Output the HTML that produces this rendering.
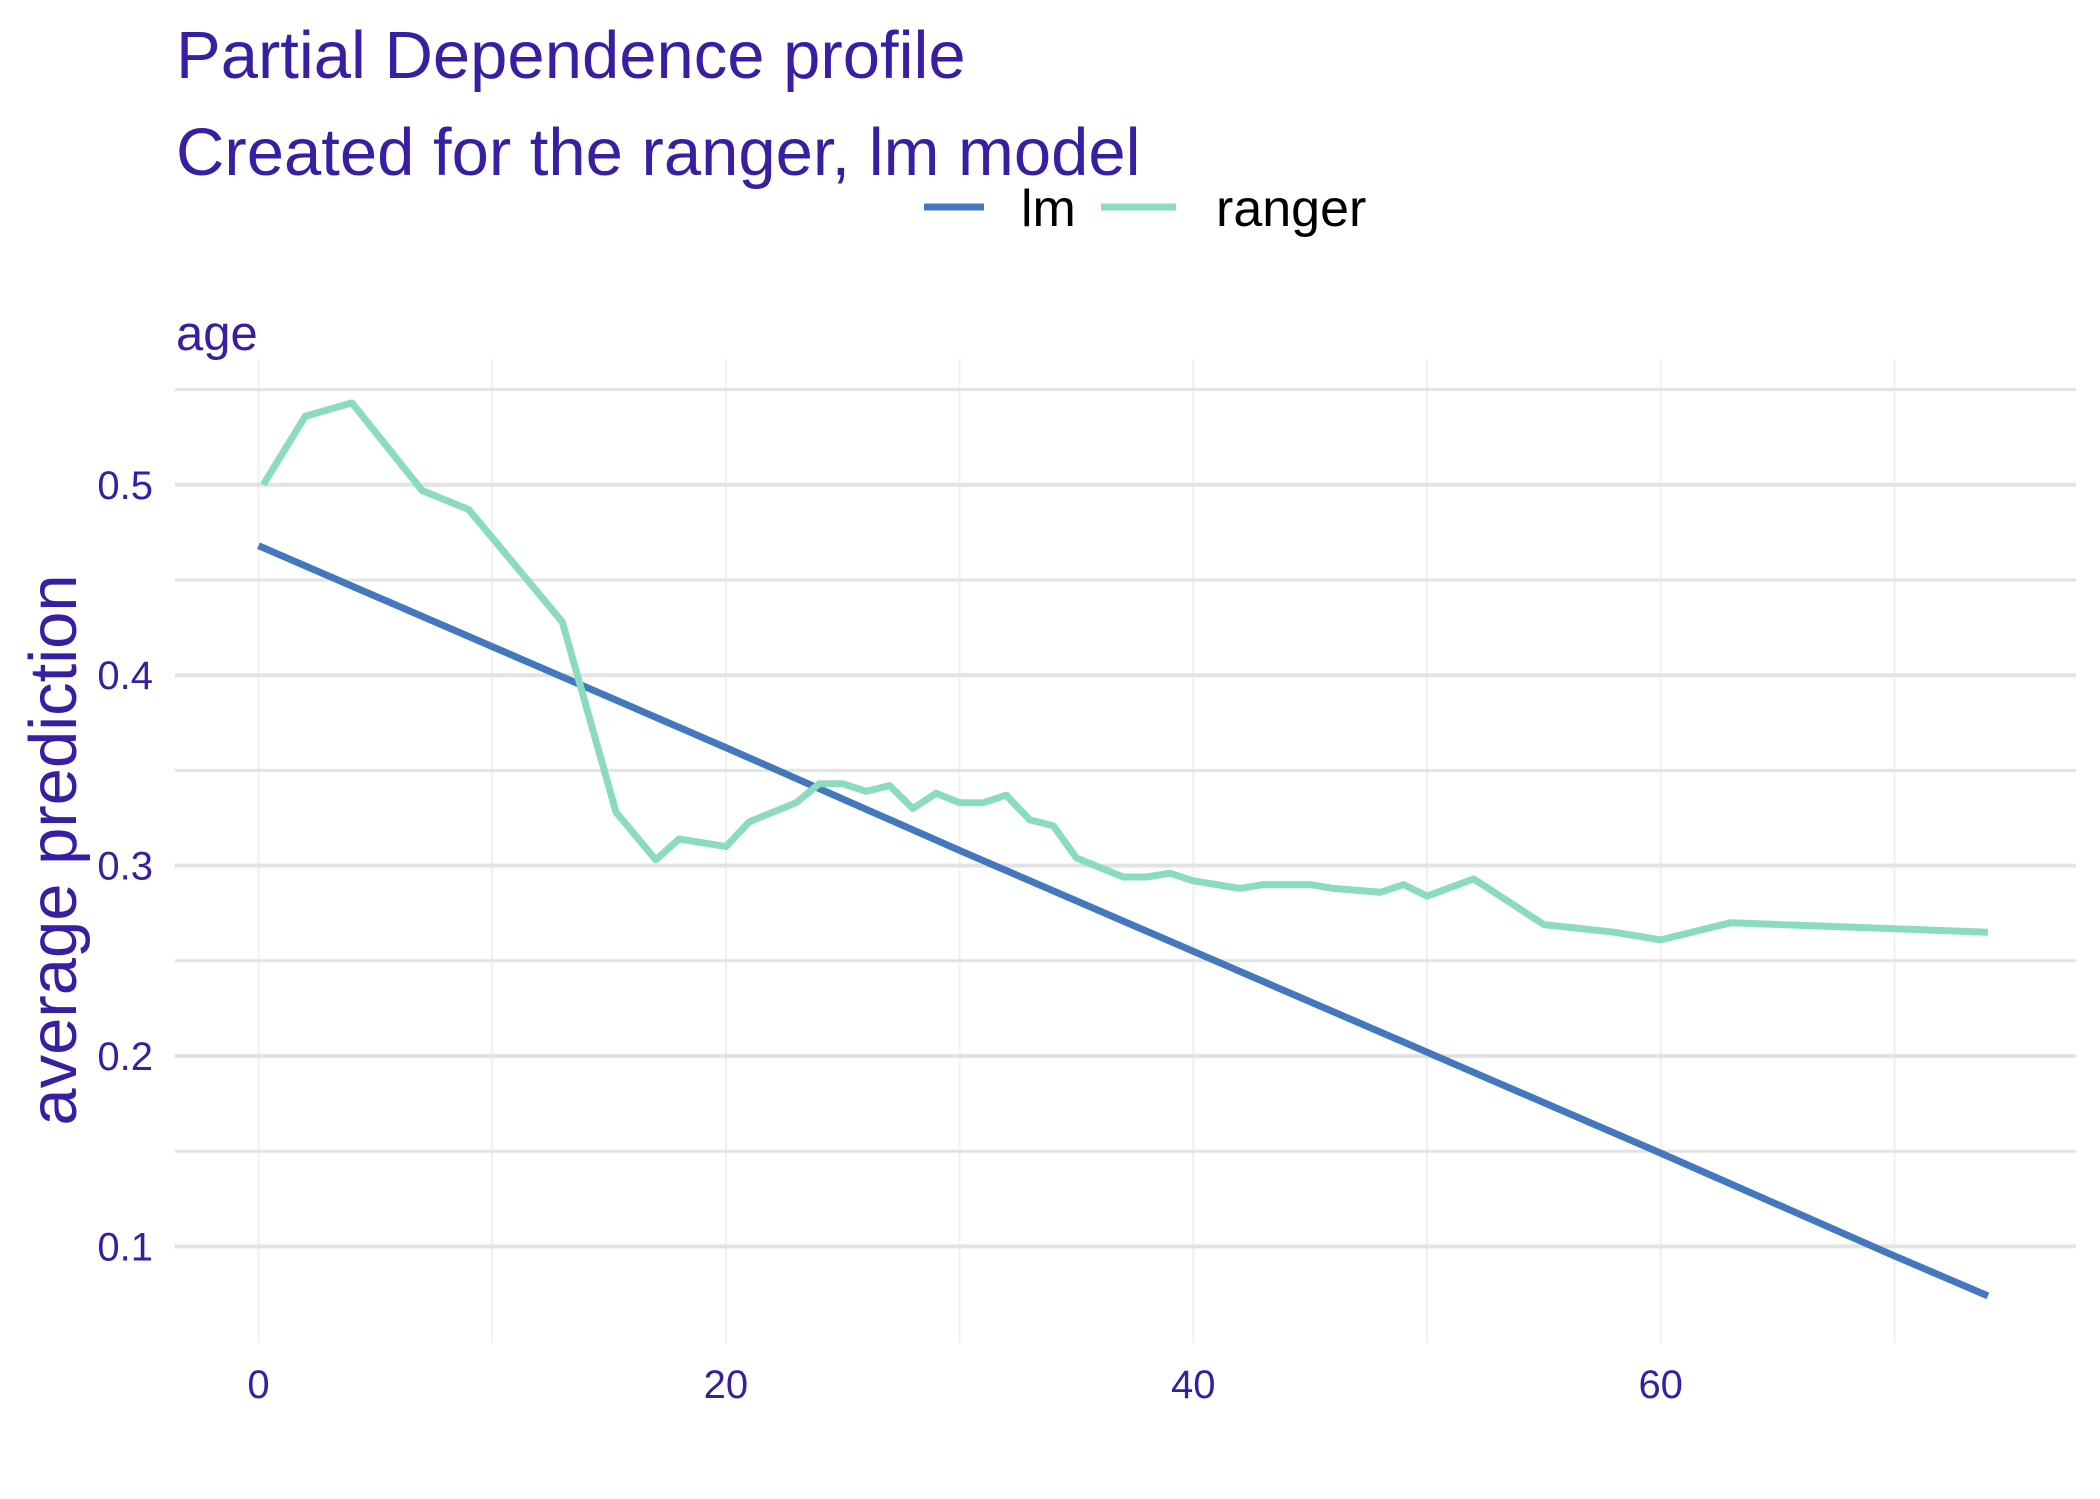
<!DOCTYPE html>
<html><head><meta charset="utf-8"><style>
html,body{margin:0;padding:0;background:#fff}
svg{display:block}
text{font-family:"Liberation Sans",Arial,sans-serif;fill:#371ea3}
</style></head><body>
<svg id="chart" width="2100" height="1499" viewBox="0 0 2100 1499" xmlns="http://www.w3.org/2000/svg">
<text x="176" y="78" font-size="67">Partial Dependence profile</text>
<text x="176" y="175" font-size="67">Created for the ranger, lm model</text>
<g>
<line x1="924" y1="207" x2="984" y2="207" stroke="#4378bf" stroke-width="7"/>
<text x="1021" y="226" font-size="52" style="fill:#000">lm</text>
<line x1="1101" y1="207" x2="1176" y2="207" stroke="#8bdcbe" stroke-width="7"/>
<text x="1216" y="226" font-size="52" style="fill:#000">ranger</text>
</g>
<text x="176" y="350" font-size="49">age</text>
<text transform="translate(76,850) rotate(-90)" text-anchor="middle" font-size="67">average prediction</text>
<g id="grid"></g>
<g id="axes"></g>
<g id="series"></g>
</svg>
<script>
const xTicks=[0,20,40,60];
const xMinor=[10,30,50,70];
const yTicks=[0.1,0.2,0.3,0.4,0.5];
const yMinor=[0.15,0.25,0.35,0.45,0.55];
const lmX=[0,10,20,30,40,50,60,70,74];
const lmY=[0.468,0.415,0.362,0.308,0.255,0.202,0.149,0.095,0.074];
const rangerX=[0.2,2,4,7,9,13,15.3,17,18,20,21,23,24,25,26,27,28,29,30,31,32,33,34,35,37,38,39,40,42,43,45,46,48,49,50,52,55,58,60,63,74];
const rangerY=[0.5,0.536,0.543,0.497,0.487,0.428,0.328,0.303,0.314,0.310,0.323,0.333,0.343,0.343,0.339,0.342,0.330,0.338,0.333,0.333,0.337,0.324,0.321,0.304,0.294,0.294,0.296,0.292,0.288,0.290,0.290,0.288,0.286,0.290,0.284,0.293,0.269,0.265,0.261,0.270,0.265];
const NS='http://www.w3.org/2000/svg';
const L=175,R=2076,T=359,B=1343;
function sx(v){return 258.5+v*23.37;}
function sy(v){return 484.8+(0.5-v)*1904;}
function mk(tag,attrs,parent){const e=document.createElementNS(NS,tag);for(const k in attrs)e.setAttribute(k,attrs[k]);parent.appendChild(e);return e;}
const grid=document.getElementById('grid'),axes=document.getElementById('axes'),series=document.getElementById('series');
xMinor.concat(xTicks).forEach(v=>{
 const l=mk('line',{x1:sx(v),x2:sx(v),y1:T,y2:B,stroke:'#f0f0f0','stroke-width':2},grid);
 
 
});
yMinor.forEach(v=>{
 const l=mk('line',{x1:L,x2:R,y1:sy(v),y2:sy(v),stroke:'#e3e3e3','stroke-width':3},grid);
 
 
});
yTicks.forEach(v=>{
 const l=mk('line',{x1:L,x2:R,y1:sy(v),y2:sy(v),stroke:'#e3e3e3','stroke-width':4},grid);
 
 
 const t=mk('text',{x:153,y:sy(v)+14,'text-anchor':'end','font-size':40},axes);
 t.textContent=v.toFixed(1);
 
 
});
xTicks.forEach(v=>{
 const t=mk('text',{x:sx(v),y:1398,'text-anchor':'middle','font-size':40},axes);
 t.textContent=String(v);
 
 
});
function path(xs,ys){return xs.map((x,i)=>(i?'L':'M')+sx(x).toFixed(1)+','+sy(ys[i]).toFixed(1)).join(' ');}
const pl=mk('path',{d:path(lmX,lmY),fill:'none',stroke:'#4378bf','stroke-width':7,'stroke-linejoin':'round'},series);


const pr=mk('path',{d:path(rangerX,rangerY),fill:'none',stroke:'#8bdcbe','stroke-width':7,'stroke-linejoin':'round'},series);


</script>
</body></html>
